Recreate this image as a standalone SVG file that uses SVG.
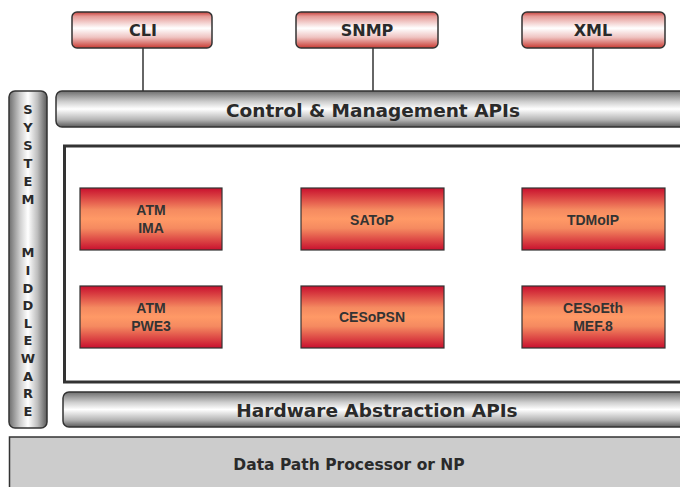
<svg xmlns="http://www.w3.org/2000/svg" width="680" height="487" viewBox="0 0 680 487">
<defs>
<linearGradient id="gTop" x1="0" y1="0" x2="0" y2="1">
<stop offset="0" stop-color="#c9413c"/>
<stop offset="0.12" stop-color="#e59a96"/>
<stop offset="0.45" stop-color="#ffffff"/>
<stop offset="0.7" stop-color="#efc4c2"/>
<stop offset="1" stop-color="#c83a32"/>
</linearGradient>
<linearGradient id="gBar" x1="0" y1="0" x2="0" y2="1">
<stop offset="0" stop-color="#6e6e6e"/>
<stop offset="0.3" stop-color="#cfcfcf"/>
<stop offset="0.5" stop-color="#ffffff"/>
<stop offset="0.8" stop-color="#b4b4b4"/>
<stop offset="1" stop-color="#5a5a5a"/>
</linearGradient>
<linearGradient id="gSide" x1="0" y1="0" x2="1" y2="0">
<stop offset="0" stop-color="#6e6e6e"/>
<stop offset="0.3" stop-color="#d0d0d0"/>
<stop offset="0.5" stop-color="#ffffff"/>
<stop offset="0.75" stop-color="#bdbdbd"/>
<stop offset="1" stop-color="#5a5a5a"/>
</linearGradient>
<linearGradient id="gRed" x1="0" y1="0" x2="0" y2="1">
<stop offset="0" stop-color="#c8102e"/>
<stop offset="0.35" stop-color="#f58a60"/>
<stop offset="0.5" stop-color="#ff9966"/>
<stop offset="0.65" stop-color="#f58a60"/>
<stop offset="1" stop-color="#c8102e"/>
</linearGradient>
</defs>
<style>
.top{fill:url(#gTop);stroke:#333;stroke-width:1.5}
.bar{fill:url(#gBar);stroke:#333;stroke-width:1.5}
.red{fill:url(#gRed);stroke:#333;stroke-width:1.2}
.lbl{font-family:"DejaVu Sans",Verdana,sans-serif;font-weight:bold;fill:#2a2a2a;text-anchor:middle}
.rt{font-family:"Liberation Sans",Arial,sans-serif;font-weight:bold;font-size:14px;fill:#333;text-anchor:middle}
.conn{stroke:#333;stroke-width:1.5;fill:none}
</style>
<rect width="680" height="487" fill="#fff"/>
<g id="connectors">
<line class="conn" x1="143" y1="48" x2="143" y2="91"/>
<line class="conn" x1="373" y1="48" x2="373" y2="91"/>
<line class="conn" x1="593" y1="48" x2="593" y2="91"/>
</g>
<g id="cli"><rect class="top" x="72" y="12" width="140" height="36" rx="5"/><text class="lbl" x="143" y="36" font-size="16">CLI</text></g>
<g id="snmp"><rect class="top" x="296" y="12" width="142" height="36" rx="5"/><text class="lbl" x="367" y="36" font-size="16">SNMP</text></g>
<g id="xml"><rect class="top" x="522" y="12" width="143" height="36" rx="5"/><text class="lbl" x="593" y="36" font-size="16">XML</text></g>
<g id="control-apis"><rect class="bar" x="56" y="91" width="640" height="36" rx="6"/><text class="lbl" x="373" y="117" font-size="18.5">Control &amp; Management APIs</text></g>
<g id="system-middleware">
<rect x="9" y="91" width="38" height="337" rx="6" fill="url(#gSide)" stroke="#333" stroke-width="1.5"/>
<g class="lbl" font-size="13">
<text x="28" y="114">S</text><text x="28" y="132">Y</text><text x="28" y="150">S</text><text x="28" y="168">T</text><text x="28" y="186">E</text><text x="28" y="204">M</text>
<text x="28" y="257">M</text><text x="28" y="275">I</text><text x="28" y="293">D</text><text x="28" y="310">D</text><text x="28" y="328">L</text><text x="28" y="345">E</text><text x="28" y="363">W</text><text x="28" y="381">A</text><text x="28" y="398">R</text><text x="28" y="416">E</text>
</g>
</g>
<g id="services-frame"><rect x="64.5" y="146" width="640" height="236" fill="#fff" stroke="#333" stroke-width="3"/></g>
<g id="atm-ima"><rect class="red" x="80" y="188" width="142" height="62"/><text class="rt" x="151" y="215">ATM</text><text class="rt" x="151" y="233">IMA</text></g>
<g id="satop"><rect class="red" x="301" y="188" width="143" height="62"/><text class="rt" x="372" y="225">SAToP</text></g>
<g id="tdmoip"><rect class="red" x="522" y="188" width="143" height="62"/><text class="rt" x="593" y="225">TDMoIP</text></g>
<g id="atm-pwe3"><rect class="red" x="80" y="286" width="142" height="62"/><text class="rt" x="151" y="313">ATM</text><text class="rt" x="151" y="331">PWE3</text></g>
<g id="cesopsn"><rect class="red" x="301" y="286" width="143" height="62"/><text class="rt" x="372" y="322">CESoPSN</text></g>
<g id="cesoeth"><rect class="red" x="522" y="286" width="143" height="62"/><text class="rt" x="593" y="313">CESoEth</text><text class="rt" x="593" y="331">MEF.8</text></g>
<g id="hw-apis"><rect class="bar" x="63" y="392" width="640" height="35" rx="6"/><text class="lbl" x="377" y="417" font-size="18.5">Hardware Abstraction APIs</text></g>
<g id="data-path"><rect x="9.5" y="437" width="690" height="60" fill="#cccccc" stroke="#333" stroke-width="1.5"/><text class="lbl" x="349" y="470" font-size="15.5">Data Path Processor or NP</text></g>
</svg>
